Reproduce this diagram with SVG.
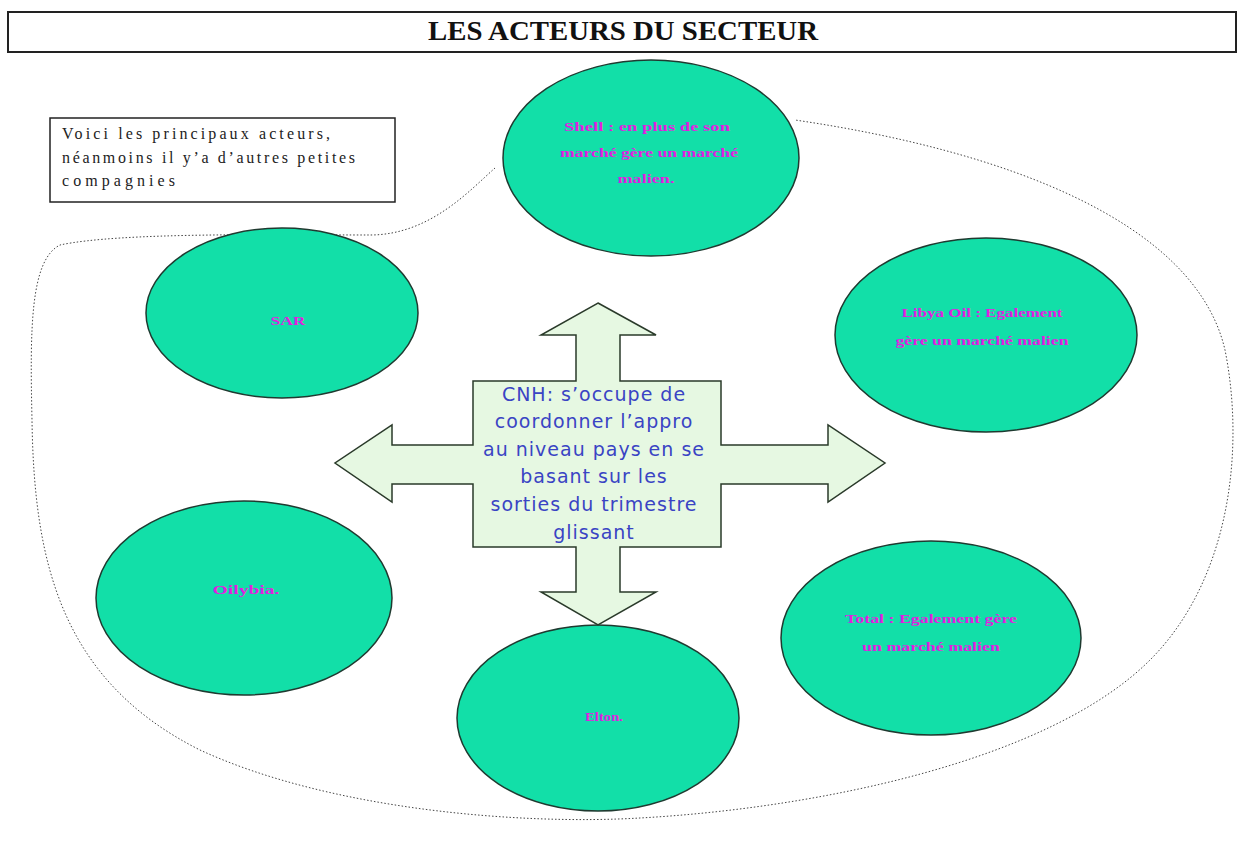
<svg xmlns="http://www.w3.org/2000/svg" width="1243" height="843" viewBox="0 0 1243 843">
<style>
.ell{fill:#12DFA8;stroke:#1f3a30;stroke-width:1.5}
.et{font-family:"Liberation Serif",serif;font-size:12px;font-weight:bold;fill:#E01EE0;text-anchor:middle}
.ct{font-family:"DejaVu Sans","Liberation Sans",sans-serif;font-size:19px;fill:#3A44C4;text-anchor:middle;letter-spacing:1px}
</style>
<rect width="1243" height="843" fill="#ffffff"/>
<g id="title">
<rect x="8" y="12" width="1228" height="40" fill="#fff" stroke="#222" stroke-width="2"/>
<text x="623" y="40" font-family="Liberation Serif,serif" font-size="27" font-weight="bold" text-anchor="middle" fill="#111" textLength="390" lengthAdjust="spacingAndGlyphs">LES ACTEURS DU SECTEUR</text>
</g>
<g id="outline">
<path d="M 495,168 C 470,190 430,235 370,235 C 280,235 120,232 60,245 C 30,260 30,330 32,420 C 34,560 60,680 200,750 C 330,810 520,825 640,818 C 820,808 1050,760 1150,660 C 1230,580 1245,450 1225,350 C 1195,220 1000,150 795,120" fill="none" stroke="#444" stroke-width="1" stroke-dasharray="1.5,2"/>
</g>
<g id="note">
<rect x="50" y="118" width="345" height="84" fill="#fff" stroke="#222" stroke-width="1.5"/>
<text font-family="Liberation Serif,serif" font-size="16" fill="#222">
<tspan x="62" y="139" textLength="268" lengthAdjust="spacing">Voici les principaux acteurs,</tspan>
<tspan x="62" y="163" textLength="293" lengthAdjust="spacing">néanmoins il y’a d’autres petites</tspan>
<tspan x="62" y="186" textLength="113" lengthAdjust="spacing">compagnies</tspan>
</text>
</g>
<g id="shell">
<ellipse class="ell" cx="651" cy="158" rx="148" ry="98"/>
<text class="et"><tspan x="647" y="131" textLength="166" lengthAdjust="spacingAndGlyphs">Shell : en plus de son</tspan><tspan x="649" y="157" textLength="178" lengthAdjust="spacingAndGlyphs">marché gère un marché</tspan><tspan x="646" y="183" textLength="57" lengthAdjust="spacingAndGlyphs">malien.</tspan></text>
</g>
<g id="sar">
<ellipse class="ell" cx="282" cy="313" rx="136" ry="85"/>
<text class="et" x="288" y="325" textLength="35" lengthAdjust="spacingAndGlyphs">SAR</text>
</g>
<g id="libya">
<ellipse class="ell" cx="986" cy="335" rx="151" ry="97"/>
<text class="et"><tspan x="982" y="317" textLength="161" lengthAdjust="spacingAndGlyphs">Libya Oil : Egalement</tspan><tspan x="982" y="345" textLength="173" lengthAdjust="spacingAndGlyphs">gère un marché malien</tspan></text>
</g>
<g id="oil">
<ellipse class="ell" cx="244" cy="598" rx="148" ry="97"/>
<text class="et" x="246" y="594" textLength="67" lengthAdjust="spacingAndGlyphs">Oilybia.</text>
</g>
<g id="elton">
<ellipse class="ell" cx="598" cy="718" rx="141" ry="93"/>
<text class="et" x="604" y="721" textLength="38" lengthAdjust="spacingAndGlyphs">Elton.</text>
</g>
<g id="total">
<ellipse class="ell" cx="931" cy="638" rx="150" ry="97"/>
<text class="et"><tspan x="931" y="623" textLength="172" lengthAdjust="spacingAndGlyphs">Total : Egalement gère</tspan><tspan x="931" y="651" textLength="138" lengthAdjust="spacingAndGlyphs">un marché malien</tspan></text>
</g>
<g id="cnh">
<path d="M 598,303 L 656,335 L 620,335 L 620,381 L 721,381 L 721,445 L 828,445 L 828,425 L 885,463 L 828,502 L 828,484 L 721,484 L 721,547 L 620,547 L 620,592 L 656,592 L 598,625 L 541,592 L 576,592 L 576,547 L 473,547 L 473,484 L 392,484 L 392,502 L 335,463 L 392,425 L 392,445 L 473,445 L 473,381 L 576,381 L 576,335 L 541,335 Z" fill="#E6F8E2" stroke="#2a3a2a" stroke-width="1.5"/>
<text class="ct"><tspan x="594" y="401">CNH: s’occupe de</tspan><tspan x="594" y="428">coordonner l’appro</tspan><tspan x="594" y="456">au niveau pays en  se</tspan><tspan x="594" y="483">basant sur les</tspan><tspan x="594" y="511">sorties du trimestre</tspan><tspan x="594" y="539">glissant</tspan></text>
</g>
</svg>
